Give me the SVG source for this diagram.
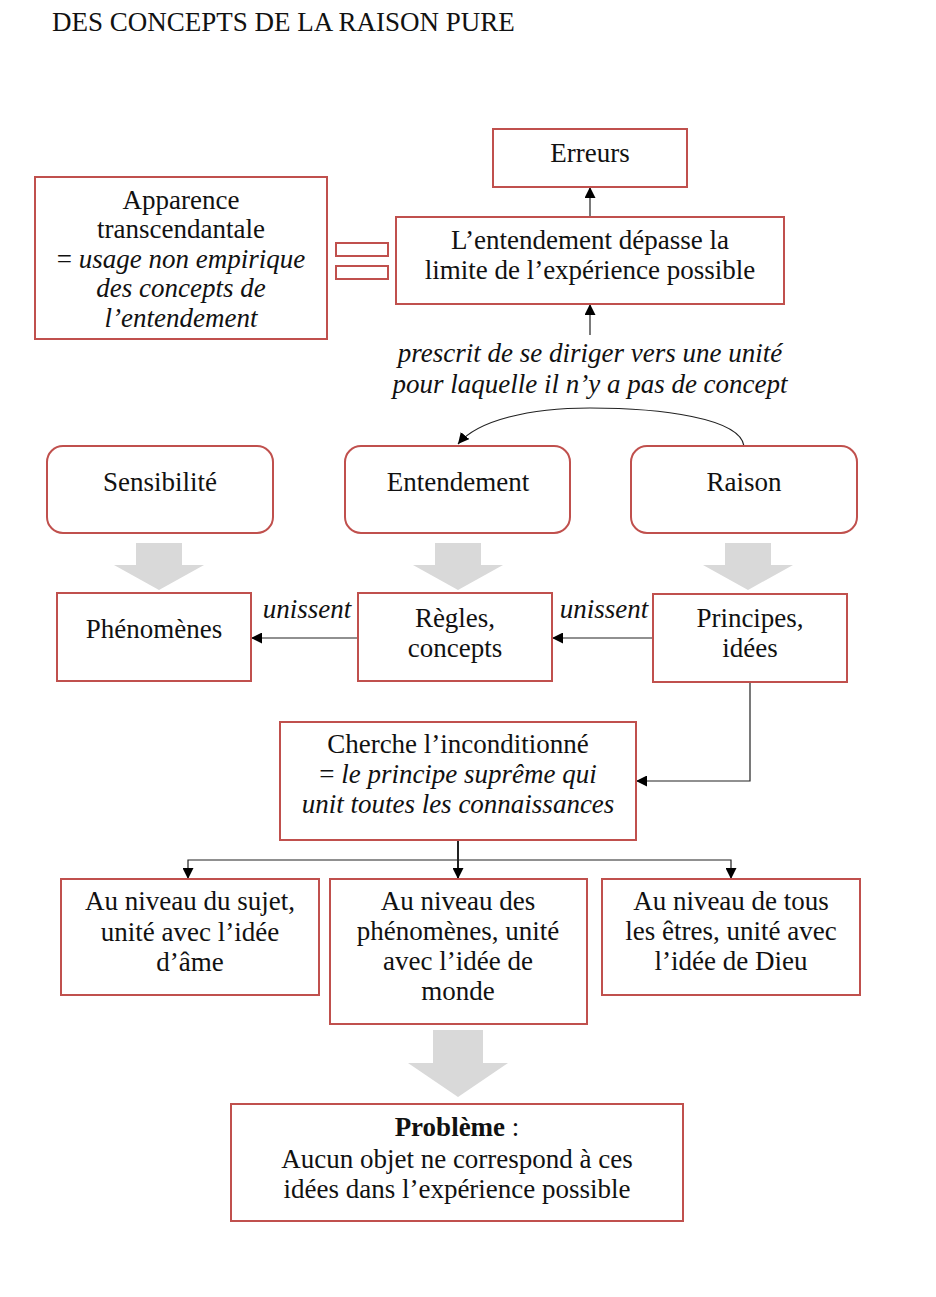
<svg xmlns="http://www.w3.org/2000/svg" width="936" height="1297" viewBox="0 0 936 1297">
<style>
.box{fill:#fff;stroke:#c0504d;stroke-width:2}
.t{font-family:"Liberation Serif","Times New Roman",serif;font-size:27px;fill:#111;text-anchor:middle}
.i{font-style:italic}
.b{font-weight:bold}
.ln{fill:none;stroke:#222;stroke-width:1.2}
.big{fill:#d9d9d9}
</style>
<defs>
<marker id="ah" viewBox="0 0 10 10" refX="10" refY="5" markerWidth="11" markerHeight="11" markerUnits="userSpaceOnUse" orient="auto">
<path d="M0,0 L10,5 L0,10 z" fill="#000"/>
</marker>
</defs>
<rect width="936" height="1297" fill="#fff"/>
<text x="52" y="31" class="t" style="text-anchor:start">DES CONCEPTS DE LA RAISON PURE</text>

<g id="connectors">
<path class="ln" d="M590,217 L590,187" marker-end="url(#ah)"/>
<path class="ln" d="M590,335 L590,304" marker-end="url(#ah)"/>
<path class="ln" d="M744,446 C740,418 660,408 590,408 C530,408 478,420 458,444" marker-end="url(#ah)"/>
<path class="ln" d="M358,638 L251,638" marker-end="url(#ah)"/>
<path class="ln" d="M653,638 L552,638" marker-end="url(#ah)"/>
<path class="ln" d="M750,682 L750,781 L636,781" marker-end="url(#ah)"/>
<path class="ln" d="M458,840 L458,879" style="stroke-width:2" marker-end="url(#ah)"/>
<path class="ln" d="M458,860 L188,860 L188,879" marker-end="url(#ah)"/>
<path class="ln" d="M458,860 L731,860 L731,879" marker-end="url(#ah)"/>
<polygon class="big" points="136,543 182,543 182,565 204,565 159,590 114,565 136,565"/>
<polygon class="big" points="435,543 481,543 481,565 503,565 458,590 413,565 435,565"/>
<polygon class="big" points="725,543 771,543 771,565 793,565 748,590 703,565 725,565"/>
<polygon class="big" points="433,1030 483,1030 483,1063 508,1063 458,1097 408,1063 433,1063"/>
<text x="590" y="362" class="t i">prescrit de se diriger vers une unité</text>
<text x="590" y="393" class="t i">pour laquelle il n’y a pas de concept</text>
<text x="307" y="618" class="t i">unissent</text>
<text x="604" y="618" class="t i">unissent</text>
</g>

<g id="apparence">
<rect class="box" x="35" y="177" width="292" height="162"/>
<text x="181" y="209" class="t">Apparence</text>
<text x="181" y="238" class="t">transcendantale</text>
<text x="181" y="268" class="t">= <tspan class="i">usage non empirique</tspan></text>
<text x="181" y="297" class="t i">des concepts de</text>
<text x="181" y="327" class="t i">l’entendement</text>
</g>

<g id="egal">
<rect class="box" x="336" y="243" width="52" height="13"/>
<rect class="box" x="336" y="266" width="52" height="13"/>
</g>

<g id="erreurs">
<rect class="box" x="493" y="129" width="194" height="58"/>
<text x="590" y="162" class="t">Erreurs</text>
</g>

<g id="depasse">
<rect class="box" x="396" y="217" width="388" height="87"/>
<text x="590" y="249" class="t">L’entendement dépasse la</text>
<text x="590" y="279" class="t">limite de l’expérience possible</text>
</g>

<g id="sensibilite">
<rect class="box" x="47" y="446" width="226" height="87" rx="16"/>
<text x="160" y="491" class="t">Sensibilité</text>
</g>
<g id="entendement">
<rect class="box" x="345" y="446" width="225" height="87" rx="16"/>
<text x="458" y="491" class="t">Entendement</text>
</g>
<g id="raison">
<rect class="box" x="631" y="446" width="226" height="87" rx="16"/>
<text x="744" y="491" class="t">Raison</text>
</g>

<g id="phenomenes">
<rect class="box" x="57" y="593" width="194" height="88"/>
<text x="154" y="638" class="t">Phénomènes</text>
</g>
<g id="regles">
<rect class="box" x="358" y="593" width="194" height="88"/>
<text x="455" y="627" class="t">Règles,</text>
<text x="455" y="657" class="t">concepts</text>
</g>
<g id="principes">
<rect class="box" x="653" y="594" width="194" height="88"/>
<text x="750" y="627" class="t">Principes,</text>
<text x="750" y="657" class="t">idées</text>
</g>

<g id="cherche">
<rect class="box" x="280" y="722" width="356" height="118"/>
<text x="458" y="753" class="t">Cherche l’inconditionné</text>
<text x="458" y="783" class="t">= <tspan class="i">le principe suprême qui</tspan></text>
<text x="458" y="813" class="t i">unit toutes les connaissances</text>
</g>

<g id="sujet">
<rect class="box" x="61" y="879" width="258" height="116"/>
<text x="190" y="910" class="t">Au niveau du sujet,</text>
<text x="190" y="941" class="t">unité avec l’idée</text>
<text x="190" y="971" class="t">d’âme</text>
</g>
<g id="monde">
<rect class="box" x="330" y="879" width="257" height="145"/>
<text x="458" y="910" class="t">Au niveau des</text>
<text x="458" y="940" class="t">phénomènes, unité</text>
<text x="458" y="970" class="t">avec l’idée de</text>
<text x="458" y="1000" class="t">monde</text>
</g>
<g id="dieu">
<rect class="box" x="602" y="879" width="258" height="116"/>
<text x="731" y="910" class="t">Au niveau de tous</text>
<text x="731" y="940" class="t">les êtres, unité avec</text>
<text x="731" y="970" class="t">l’idée de Dieu</text>
</g>

<g id="probleme">
<rect class="box" x="231" y="1104" width="452" height="117"/>
<text x="457" y="1136" class="t"><tspan class="b">Problème</tspan> :</text>
<text x="457" y="1168" class="t">Aucun objet ne correspond à ces</text>
<text x="457" y="1198" class="t">idées dans l’expérience possible</text>
</g>
</svg>
